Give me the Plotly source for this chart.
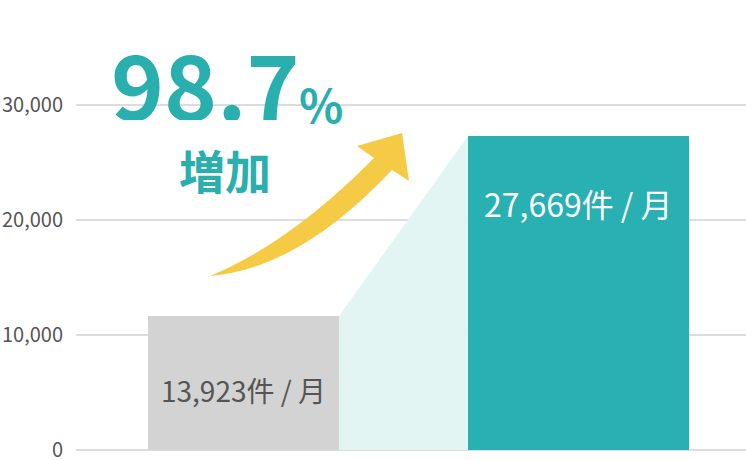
import plotly.graph_objects as go

# bar heights as drawn in the picture, and the labels printed on them
positions = [0, 1]
heights = [11650, 27300]
bar_labels = ["13,923件 / 月", "27,669件 / 月"]
bar_widths = [0.57, 0.66]
bar_colors = ["#D3D3D3", "#28B0B2"]
label_colors = ["#555555", "#FFFFFF"]
label_levels = [5200, 21500]

y_ticks = [0, 10000, 20000, 30000]
y_ticktext = ["0", "10,000", "20,000", "30,000"]

rate_text = "98.7"
rate_unit = "%"
rate_word = "増加"

FONT = "Noto Sans CJK JP"
TEAL = "#2AAFAF"
W, H = 746, 460
L, B = 76, 10


def pp(x, y):
    # pixel -> paper coords of the plot area
    return (x - L) / (W - L), (H - B - y) / (H - B)


def arrow_path():
    pts = {
        "tail": (210, 276), "up_join": (374, 158), "up_c": (290, 243),
        "left": (357, 146), "tip": (402, 133), "right": (409, 181),
        "low_join": (392, 170), "low_c": (299, 269),
    }
    p = {k: pp(*v) for k, v in pts.items()}
    f = lambda k: f"{p[k][0]:.4f},{p[k][1]:.4f}"
    return (f"M{f('tail')} Q{f('up_c')} {f('up_join')} L{f('left')} L{f('tip')} "
            f"L{f('right')} L{f('low_join')} Q{f('low_c')} {f('tail')} Z")


fig = go.Figure()

# light teal band joining the two bars
x_right1 = positions[0] + bar_widths[0] / 2
x_left2 = positions[1] - bar_widths[1] / 2
fig.add_trace(go.Scatter(
    x=[x_right1, x_left2, x_left2, x_right1], y=[heights[0], heights[1], 0, 0],
    fill="toself", fillcolor="#E3F5F3", line=dict(width=0), mode="lines",
    hoverinfo="skip"))

fig.add_trace(go.Bar(x=positions, y=heights, width=bar_widths,
                     marker=dict(color=bar_colors, line=dict(width=0))))

for xp, lv, txt, col, fs in zip(positions, label_levels, bar_labels, label_colors, [28, 32]):
    fig.add_annotation(x=xp, y=lv, text=txt, showarrow=False,
                       font=dict(family=FONT, size=fs, color=col))

# white strip so the 30,000 gridline breaks behind the big number
x0, y0 = pp(112, 104)
x1, y1 = pp(346, 108)
fig.add_shape(type="rect", xref="paper", yref="paper", x0=x0, x1=x1, y0=y0, y1=y1,
              fillcolor="white", line=dict(width=0), layer="below")

nx, ny = pp(302, 82)
fig.add_annotation(x=nx, y=ny, xref="paper", yref="paper", showarrow=False,
                   xanchor="right", yanchor="middle", text=f"<b>{rate_text}</b>",
                   height=76, font=dict(family=FONT, size=90, color=TEAL))
ux, uy = pp(297, 103)
fig.add_annotation(x=ux, y=uy, xref="paper", yref="paper", showarrow=False,
                   xanchor="left", yanchor="middle", text=f"<b>{rate_unit}</b>",
                   font=dict(family=FONT, size=46, color=TEAL))
wx, wy = pp(225, 169)
fig.add_annotation(x=wx, y=wy, xref="paper", yref="paper", showarrow=False,
                   xanchor="center", yanchor="middle", text=f"<b>{rate_word}</b>",
                   height=50, font=dict(family=FONT, size=46, color=TEAL))

fig.add_shape(type="path", path=arrow_path(), xref="paper", yref="paper",
              fillcolor="#F5CB45", line=dict(width=0), layer="above")

fig.update_layout(
    width=W, height=H, margin=dict(l=L, r=0, t=0, b=B),
    paper_bgcolor="white", plot_bgcolor="white", showlegend=False,
    xaxis=dict(range=[-0.5, 1.5], showgrid=False, zeroline=False,
               showticklabels=False, fixedrange=True),
    yaxis=dict(range=[0, 39130], tickvals=y_ticks, ticktext=y_ticktext,
               showgrid=True, gridcolor="#DDDDDD", gridwidth=2, automargin=False,
               zeroline=True, zerolinecolor="#DDDDDD", zerolinewidth=2,
               ticklabeloverflow="allow",
               ticklabelstandoff=12, tickfont=dict(family=FONT, size=20, color="#555555")),
)

fig.write_html("out.html", config={"displayModeBar": False},
               post_script="document.body.style.margin='0';")
